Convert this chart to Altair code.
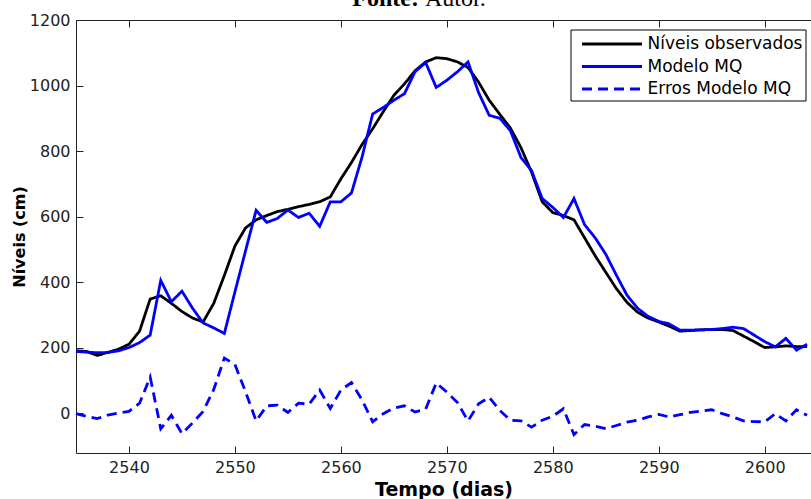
import altair as alt
import pandas as pd

dias = list(range(2535, 2605))

observados = [190, 188, 176, 185, 195, 210, 250, 348, 358, 335,
              310, 290, 278, 335, 420, 510, 565, 590, 603, 615,
              622, 630, 637, 645, 660, 715, 765, 820, 868, 920,
              970, 1005, 1045, 1072, 1085, 1082, 1072, 1055, 1010, 955,
              912, 870, 810, 735, 645, 612, 603, 590, 535, 480,
              430, 380, 338, 308, 290, 278, 265, 250, 252, 254,
              255, 255, 252, 235, 218, 200, 202, 205, 203, 203]

modelo = [188, 186, 184, 185, 190, 200, 215, 238, 405, 340,
          372, 320, 275, 260, 243, 370, 495, 619, 582, 594,
          620, 597, 610, 570, 645, 645, 672, 782, 913, 933,
          955, 975, 1042, 1070, 994, 1016, 1042, 1072, 978, 909,
          900, 862, 780, 740, 655, 628, 597, 655, 575, 535,
          485, 421, 360, 320, 295, 280, 272, 253, 253, 254,
          255, 258, 262, 258, 238, 218, 202, 228, 192, 210]

erros = [-2, -10, -17, -6, 0, 5, 30, 110, -48, -7,
         -63, -30, 5, 72, 168, 148, 65, -24, 22, 24,
         2, 30, 27, 70, 14, 70, 93, 40, -27, -2,
         15, 22, 3, 12, 92, 64, 32, -24, 28, 48,
         8, -22, -24, -43, -22, -10, 13, -66, -35, -40,
         -48, -38, -28, -22, -12, -4, -12, -5, 2, 6,
         10, -2, -12, -24, -26, -27, -2, -24, 10, -7]

series = ["Níveis observados", "Modelo MQ", "Erros Modelo MQ"]
cores = ["#000000", "#0000ff", "#0000ff"]
tracos = [[1, 0], [1, 0], [10, 6]]

x_ticks = [2540, 2550, 2560, 2570, 2580, 2590, 2600]
y_ticks = [0, 200, 400, 600, 800, 1000, 1200]

rows = []
for nome, vals in zip(series, [observados, modelo, erros]):
    for d, v in zip(dias, vals):
        rows.append({"dia": d, "valor": v, "serie": nome})
df = pd.DataFrame(rows)

xscale = alt.Scale(domain=[2535, 2604.37], nice=False, zero=False)
yscale = alt.Scale(domain=[-122, 1200], nice=False, zero=False)

AX = "#222222"
FONT = "DejaVu Sans"

leg = alt.Legend(
    title=None, orient="none", legendX=494.5, legendY=9.5,
    symbolType="M-3,0H3", symbolSize=400, symbolStrokeWidth=3,
    labelFont=FONT, labelFontSize=17, labelColor="#000000",
    labelOffset=24, padding=3, rowPadding=2.5, symbolOffset=27,
    strokeColor="#000000", fillColor="#ffffff",
)

base = alt.Chart(df)

lines = base.mark_line(strokeWidth=2.8).encode(
    x=alt.X("dia:Q", scale=xscale, axis=alt.Axis(
        orient="bottom", values=x_ticks, format="d", ticks=False, tickSize=0,
        domain=True, domainColor=AX, labels=True, labelFont=FONT,
        labelFontSize=16, labelColor=AX, labelPadding=6, grid=False,
        title="Tempo (dias)", titleFont=FONT, titleFontSize=19,
        titleFontWeight="bold", titleColor="#000000", titlePadding=5)),
    y=alt.Y("valor:Q", scale=yscale, axis=alt.Axis(
        orient="left", values=y_ticks, format="d", ticks=False, tickSize=0,
        domain=True, domainColor=AX, labels=True, labelFont=FONT,
        labelFontSize=16, labelColor=AX, labelPadding=6, grid=False,
        title="Níveis (cm)", titleFont=FONT, titleFontSize=16,
        titleFontWeight="bold", titleColor="#000000", titlePadding=2)),
    color=alt.Color("serie:N", scale=alt.Scale(domain=series, range=cores), legend=leg),
    strokeDash=alt.StrokeDash("serie:N", scale=alt.Scale(domain=series, range=tracos), legend=leg),
)

ticks_bl = base.mark_line(strokeOpacity=0).encode(
    x=alt.X("dia:Q", scale=xscale, axis=alt.Axis(
        orient="bottom", values=x_ticks, offset=-7, ticks=True, tickSize=7,
        tickColor=AX, domain=False, labels=False, grid=False, title=None)),
    y=alt.Y("valor:Q", scale=yscale, axis=alt.Axis(
        orient="left", values=y_ticks, offset=-7, ticks=True, tickSize=7,
        tickColor=AX, domain=False, labels=False, grid=False, title=None)),
    detail="serie:N",
)

ticks_top = base.mark_line(strokeOpacity=0).encode(
    x=alt.X("dia:Q", scale=xscale, axis=alt.Axis(
        orient="top", values=x_ticks, offset=-7, ticks=True, tickSize=7,
        tickColor=AX, domain=False, labels=False, grid=False, title=None)),
    y=alt.Y("valor:Q", scale=yscale, axis=None),
    detail="serie:N",
)

border_top = base.mark_line(strokeOpacity=0).encode(
    x=alt.X("dia:Q", scale=xscale, axis=alt.Axis(
        orient="top", values=x_ticks, ticks=False, tickSize=0,
        domain=True, domainColor=AX, labels=False, grid=False, title=None)),
    y=alt.Y("valor:Q", scale=yscale, axis=None),
    detail="serie:N",
)

fonte_df = pd.DataFrame({"t": ["Fonte:"]})
autor_df = pd.DataFrame({"t": ["Autor."]})
fonte = alt.Chart(fonte_df).mark_text(
    font="Liberation Serif", fontSize=24, fontWeight="bold", align="right",
    baseline="alphabetic", color="#000000").encode(
    text="t:N", x=alt.value(343), y=alt.value(-14))
autor = alt.Chart(autor_df).mark_text(
    font="Liberation Serif", fontSize=24, align="left",
    baseline="alphabetic", color="#000000").encode(
    text="t:N", x=alt.value(349), y=alt.value(-14))

chart = alt.layer(lines, ticks_bl, ticks_top, border_top, fonte, autor).resolve_axis(
    x="independent", y="independent"
).properties(
    width=735, height=433,
    autosize=alt.AutoSizeParams(type="none"),
    padding={"left": 76, "top": 20, "right": 0, "bottom": 46},
    background="#ffffff",
).configure_view(stroke="transparent")

chart.save("out.html", embed_options={"renderer": "svg", "actions": False})
